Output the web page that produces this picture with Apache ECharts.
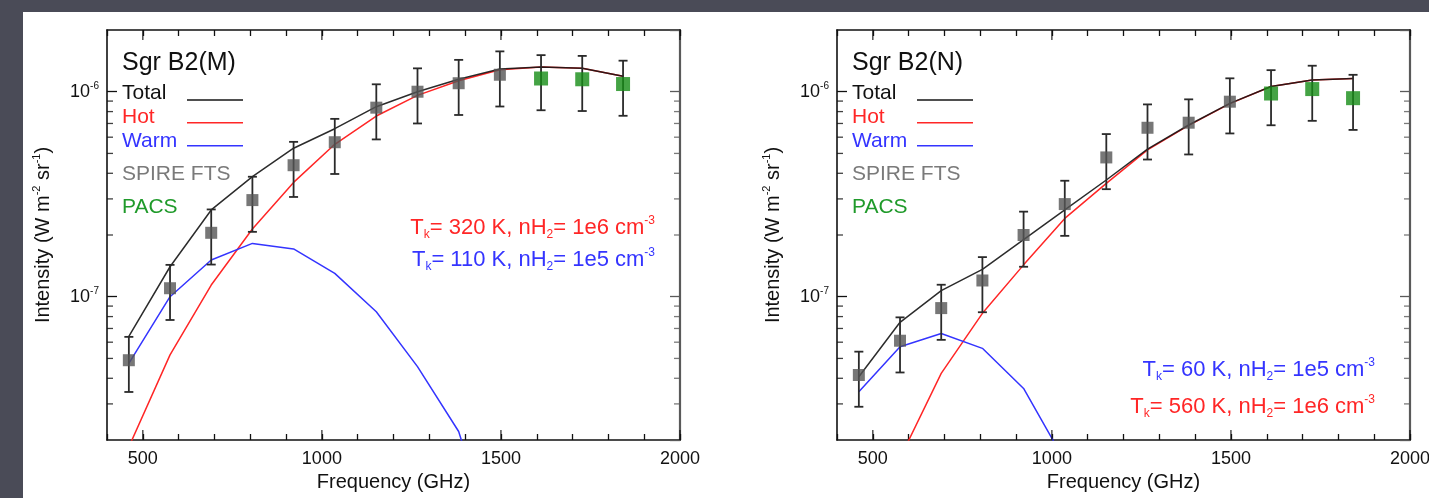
<!DOCTYPE html>
<html>
<head>
<meta charset="utf-8">
<script src="https://cdn.jsdelivr.net/npm/echarts@6/dist/echarts.min.js"></script>
<style>
  html, body { margin: 0; padding: 0; width: 1429px; height: 498px; overflow: hidden; background: #4a4b57; }
  #panel { position: absolute; left: 23px; top: 12px; right: 0; bottom: 0; background: #ffffff; }
  #chart { position: absolute; left: 0; top: 0; width: 1429px; height: 498px; }
</style>
</head>
<body>
<div id="panel"></div>
<div id="chart"></div>
<script>
// CO ladder, J=4-3 ... 16-15 (GHz)
const modelFreqs = [461, 576, 691, 806, 921, 1036, 1152, 1267, 1382, 1497, 1612, 1727, 1841];
const spireFreqs = [461, 576, 691, 806, 921, 1036, 1152, 1267, 1382, 1497];
const pacsFreqs = [1612, 1727, 1841];
const relErr = 0.3; // 30 % calibration error on every line

// Sgr B2(M) intensities (W m-2 sr-1)
const mSpire = [4.9e-8, 1.10e-7, 2.05e-7, 2.96e-7, 4.38e-7, 5.67e-7, 8.36e-7, 1.0e-6, 1.10e-6, 1.21e-6];
const mPacs = [1.16e-6, 1.15e-6, 1.09e-6];
const mTotal = [6.4e-8, 1.40e-7, 2.65e-7, 3.85e-7, 5.30e-7, 6.60e-7, 8.45e-7, 1.0e-6, 1.15e-6, 1.29e-6, 1.32e-6, 1.30e-6, 1.19e-6];
const mHot = [1.85e-8, 5.2e-8, 1.14e-7, 2.14e-7, 3.61e-7, 5.54e-7, 7.61e-7, 9.6e-7, 1.13e-6, 1.28e-6, 1.32e-6, 1.30e-6, 1.19e-6];
const mWarm = [4.73e-8, 1.0e-7, 1.51e-7, 1.82e-7, 1.71e-7, 1.30e-7, 8.45e-8, 4.56e-8, 2.2e-8, 5e-9];

// Sgr B2(N) intensities (W m-2 sr-1)
const nSpire = [4.15e-8, 6.1e-8, 8.8e-8, 1.20e-7, 2.0e-7, 2.83e-7, 4.78e-7, 6.67e-7, 7.06e-7, 8.94e-7];
const nPacs = [9.8e-7, 1.03e-6, 9.3e-7];
const nTotal = [4.07e-8, 7.5e-8, 1.07e-7, 1.36e-7, 1.90e-7, 2.65e-7, 3.71e-7, 5.25e-7, 6.88e-7, 8.77e-7, 1.06e-6, 1.14e-6, 1.16e-6];
const nHot = [5e-9, 1.63e-8, 4.23e-8, 8.3e-8, 1.43e-7, 2.41e-7, 3.57e-7, 5.2e-7, 6.85e-7, 8.75e-7, 1.06e-6, 1.14e-6, 1.16e-6];
const nWarm = [3.44e-8, 5.7e-8, 6.62e-8, 5.6e-8, 3.57e-8, 1.58e-8];

// axes
const xRange = [400, 2000];
const yRange = [2e-8, 2e-6];
const xMajorTicks = [500, 1000, 1500, 2000];
const yMinorTicks = [3e-8, 4e-8, 5e-8, 6e-8, 7e-8, 8e-8, 9e-8, 2e-7, 3e-7, 4e-7, 5e-7, 6e-7, 7e-7, 8e-7, 9e-7];

const FONT = 'Liberation Sans, Arial, Helvetica, sans-serif';
const INK = '#111111';
const RED = '#ff2626';
const BLUE = '#3434ff';
const GREY_PT = '#555555';
const GREEN_PT = '#158c15';

const panels = [
  { title: 'Sgr B2(M)', left: 107, spire: mSpire, pacs: mPacs, total: mTotal, hot: mHot, warm: mWarm,
    noteRight: 655,
    notes: [ { color: RED, T: '320', n: '1e6', y: 227.5 }, { color: BLUE, T: '110', n: '1e5', y: 260 } ] },
  { title: 'Sgr B2(N)', left: 837, spire: nSpire, pacs: nPacs, total: nTotal, hot: nHot, warm: nWarm,
    noteRight: 1375,
    notes: [ { color: BLUE, T: '60', n: '1e5', y: 370 }, { color: RED, T: '560', n: '1e6', y: 406.5 } ] }
];

const GRID_TOP = 30, GRID_W = 573, GRID_H = 410;

function pairs(xs, ys) { return ys.map((v, k) => [xs[k], v]); }

function errorBars(xs, ys) {
  return ys.map((v, k) => [xs[k], v * (1 - relErr), v * (1 + relErr)]);
}

function renderErrorBar(params, api) {
  const x = api.value(0);
  const lo = api.coord([x, api.value(1)]);
  const hi = api.coord([x, api.value(2)]);
  const cap = 4.5;
  const st = { stroke: '#2a2a2a', lineWidth: 1.8 };
  return {
    type: 'group',
    children: [
      { type: 'line', shape: { x1: lo[0], y1: lo[1], x2: hi[0], y2: hi[1] }, style: st },
      { type: 'line', shape: { x1: lo[0] - cap, y1: lo[1], x2: lo[0] + cap, y2: lo[1] }, style: st },
      { type: 'line', shape: { x1: hi[0] - cap, y1: hi[1], x2: hi[0] + cap, y2: hi[1] }, style: st }
    ]
  };
}

const grid = [], xAxis = [], yAxis = [], series = [], graphic = [];

panels.forEach((p, i) => {
  grid.push({ left: p.left, top: GRID_TOP, width: GRID_W, height: GRID_H, outerBoundsMode: 'none', containLabel: false });

  // bottom axis: labelled, minor ticks every 100 GHz
  xAxis.push({
    gridIndex: i, type: 'value', position: 'bottom', min: xRange[0], max: xRange[1], interval: 100,
    axisLine: { onZero: false, lineStyle: { color: INK, width: 1.6 } },
    axisTick: { inside: true, length: 6, lineStyle: { color: INK, width: 1.3 } },
    axisLabel: {
      formatter: v => (xMajorTicks.indexOf(v) >= 0 ? String(v) : ''),
      fontSize: 18, color: INK, fontFamily: FONT, margin: 10
    },
    splitLine: { show: false },
    name: 'Frequency (GHz)', nameLocation: 'middle', nameGap: 30,
    nameTextStyle: { fontSize: 20, color: INK, fontFamily: FONT }
  });
  // top frame
  xAxis.push({
    gridIndex: i, type: 'value', position: 'top', min: xRange[0], max: xRange[1], interval: 100,
    axisLine: { onZero: false, lineStyle: { color: INK, width: 1.6 } },
    axisTick: { inside: true, length: 6, lineStyle: { color: INK, width: 1.3 } },
    axisLabel: { show: false }, splitLine: { show: false }
  });
  // left log axis
  yAxis.push({
    gridIndex: i, type: 'log', logBase: 10, position: 'left', min: yRange[0], max: yRange[1],
    axisLine: { lineStyle: { color: INK, width: 1.6 } },
    axisTick: { inside: true, length: 10, lineStyle: { color: INK, width: 1.3 } },
    axisLabel: {
      showMinLabel: false, showMaxLabel: false, margin: 8, color: INK, fontFamily: FONT,
      formatter: v => '{b|10}{s|' + Math.round(Math.log10(v)) + '}',
      rich: {
        b: { fontSize: 18, lineHeight: 20, color: INK, fontFamily: FONT },
        s: { fontSize: 10, lineHeight: 10, verticalAlign: 'top', color: INK, fontFamily: FONT }
      }
    },
    splitLine: { show: false },
    name: '{n|Intensity (W m}{s|-2}{n| sr}{s|-1}{n|)}', nameLocation: 'middle', nameGap: 52,
    nameTextStyle: {
      color: INK, fontFamily: FONT,
      rich: {
        n: { fontSize: 20, lineHeight: 24, color: INK, fontFamily: FONT },
        s: { fontSize: 11, lineHeight: 11, verticalAlign: 'top', color: INK, fontFamily: FONT }
      }
    }
  });
  // right frame
  yAxis.push({
    gridIndex: i, type: 'log', logBase: 10, position: 'right', min: yRange[0], max: yRange[1],
    axisLine: { lineStyle: { color: '#5a5a5a', width: 2.2 } },
    axisTick: { inside: true, length: 10, lineStyle: { color: '#5a5a5a', width: 1.3 } },
    axisLabel: { show: false }, splitLine: { show: false }
  });

  const xi = 2 * i, yi = 2 * i;
  const lineBase = { type: 'line', xAxisIndex: xi, yAxisIndex: yi, showSymbol: false, symbol: 'none',
                     clip: true, silent: true, z: 2 };

  series.push(Object.assign({}, lineBase, { name: 'Hot', data: pairs(modelFreqs, p.hot),
    lineStyle: { color: RED, width: 1.5 } }));
  series.push(Object.assign({}, lineBase, { name: 'Warm', data: pairs(modelFreqs, p.warm),
    lineStyle: { color: BLUE, width: 1.5 } }));
  series.push(Object.assign({}, lineBase, { name: 'Total', data: pairs(modelFreqs, p.total),
    lineStyle: { color: '#151515', width: 1.5, opacity: 0.9 } }));

  series.push({ type: 'custom', name: 'SPIRE FTS error', xAxisIndex: xi, yAxisIndex: yi, z: 3, silent: true,
    renderItem: renderErrorBar, encode: { x: 0, y: [1, 2] }, data: errorBars(spireFreqs, p.spire) });
  series.push({ type: 'custom', name: 'PACS error', xAxisIndex: xi, yAxisIndex: yi, z: 3, silent: true,
    renderItem: renderErrorBar, encode: { x: 0, y: [1, 2] }, data: errorBars(pacsFreqs, p.pacs) });

  series.push({ type: 'scatter', name: 'SPIRE FTS', xAxisIndex: xi, yAxisIndex: yi, z: 4, silent: true,
    symbol: 'rect', symbolSize: 12, itemStyle: { color: GREY_PT }, data: pairs(spireFreqs, p.spire) });
  series.push({ type: 'scatter', name: 'PACS', xAxisIndex: xi, yAxisIndex: yi, z: 4, silent: true,
    symbol: 'rect', symbolSize: 14, itemStyle: { color: GREEN_PT }, data: pairs(pacsFreqs, p.pacs) });

  // longer ticks at the labelled frequencies, bottom and top
  const tickBase = { type: 'scatter', xAxisIndex: xi, yAxisIndex: yi, z: 5, silent: true, clip: false,
                     symbol: 'rect', itemStyle: { color: INK } };
  series.push(Object.assign({}, tickBase, { symbolSize: [1.4, 10], symbolOffset: [0, -5],
    data: xMajorTicks.map(v => [v, yRange[0]]) }));
  series.push(Object.assign({}, tickBase, { symbolSize: [1.4, 10], symbolOffset: [0, 5],
    data: xMajorTicks.map(v => [v, yRange[1]]) }));
  // logarithmic minor ticks on the left and right frames
  series.push(Object.assign({}, tickBase, { symbolSize: [6, 1.3], symbolOffset: [3, 0],
    data: yMinorTicks.map(v => [xRange[0], v]) }));
  series.push(Object.assign({}, tickBase, { symbolSize: [6, 1.3], symbolOffset: [-3, 0],
    itemStyle: { color: '#5a5a5a' }, data: yMinorTicks.map(v => [xRange[1], v]) }));

  // source name and key
  const lx = p.left + 15;
  graphic.push({ type: 'text', x: lx, y: 63, silent: true,
    style: { text: p.title, fontSize: 25, fontFamily: FONT, fill: INK, align: 'left', verticalAlign: 'middle' } });
  const keys = [
    { t: 'Total', c: INK, y: 92.8, ly: 100 },
    { t: 'Hot', c: RED, y: 117.5, ly: 122.7 },
    { t: 'Warm', c: BLUE, y: 140.8, ly: 145.7 },
    { t: 'SPIRE FTS', c: '#7a7a7a', y: 174 },
    { t: 'PACS', c: '#1f9a2a', y: 207.5 }
  ];
  keys.forEach(k => {
    graphic.push({ type: 'text', x: lx, y: k.y, silent: true,
      style: { text: k.t, fontSize: 21, fontFamily: FONT, fill: k.c, align: 'left', verticalAlign: 'middle' } });
    if (k.ly !== undefined) {
      graphic.push({ type: 'line', silent: true,
        shape: { x1: p.left + 80, y1: k.ly, x2: p.left + 136, y2: k.ly },
        style: { stroke: k.c === INK ? '#151515' : k.c, lineWidth: 1.6 } });
    }
  });

  // model parameters
  p.notes.forEach(nt => {
    graphic.push({ type: 'text', x: p.noteRight, y: nt.y, silent: true,
      style: {
        text: '{n|T}{sub|k}{n|= ' + nt.T + ' K, nH}{sub|2}{n|= ' + nt.n + ' cm}{sup|-3}',
        fill: nt.color, fontFamily: FONT, fontSize: 22, align: 'right', verticalAlign: 'middle',
        rich: {
          n: { fontSize: 22, lineHeight: 26, fill: nt.color, fontFamily: FONT },
          sub: { fontSize: 12, lineHeight: 12, verticalAlign: 'bottom', fill: nt.color, fontFamily: FONT },
          sup: { fontSize: 12, lineHeight: 12, verticalAlign: 'top', fill: nt.color, fontFamily: FONT }
        }
      } });
  });
});

const chart = echarts.init(document.getElementById('chart'), null, { renderer: 'canvas' });
chart.setOption({
  animation: false,
  backgroundColor: 'transparent',
  textStyle: { fontFamily: FONT },
  grid, xAxis, yAxis, series, graphic
});
</script>
</body>
</html>
